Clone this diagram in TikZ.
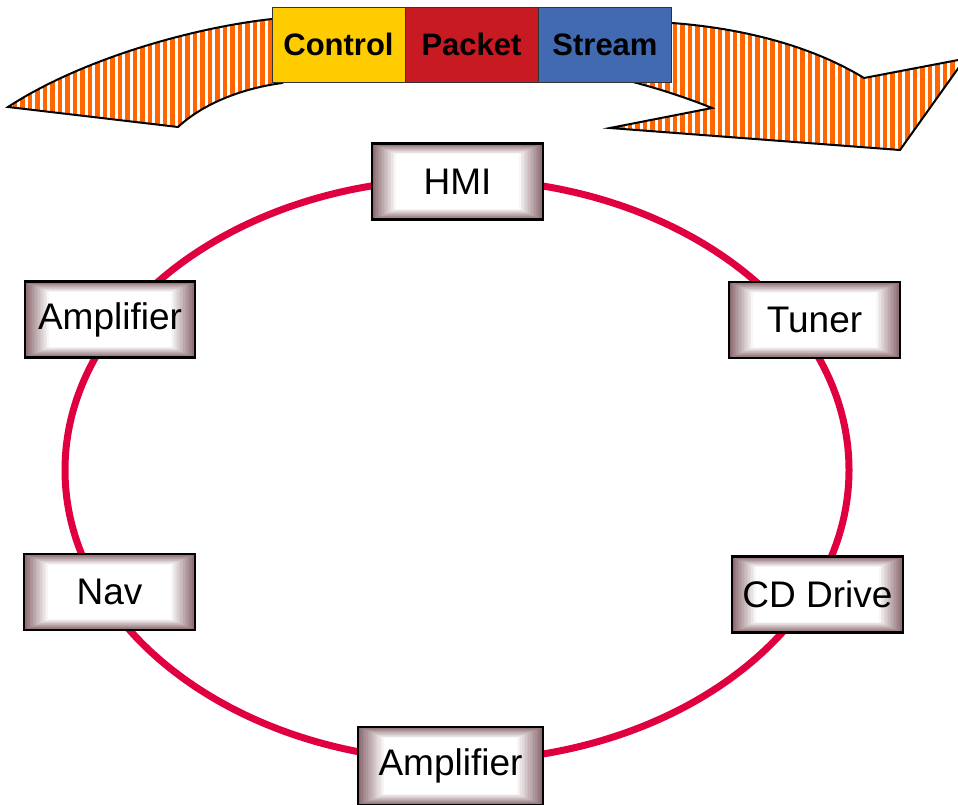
\documentclass[tikz,border=0pt]{standalone}
\usepackage{fontspec}
\setmainfont{Liberation Sans}
\usetikzlibrary{calc,patterns.meta}

\definecolor{ringred}{RGB}{224,0,64}
\definecolor{boxedge}{RGB}{138,104,110}
\definecolor{ctrlyellow}{RGB}{255,204,0}
\definecolor{pktred}{RGB}{200,26,34}
\definecolor{strblue}{RGB}{66,106,176}
\definecolor{stripe}{RGB}{255,102,0}

\tikzset{
  % ring member: framed box whose fill fades from the rim to a white centre
  unit/.style={draw=black, line width=2.2pt, inner sep=0pt,
    minimum width=171pt, minimum height=76pt,
    font=\fontsize{37}{40}\selectfont,
    path picture={
      \foreach \k in {0,...,16}{
        \pgfmathsetmacro\f{0.14*\k/16}
        \pgfmathtruncatemacro\w{100*\k/16}
        \fill[white!\w!boxedge]
          ($(path picture bounding box.south west)!\f!(path picture bounding box.north east)$)
          rectangle
          ($(path picture bounding box.north east)!\f!(path picture bounding box.south west)$);
      }
    }},
  band/.style={draw=black!80, line width=1pt, inner sep=0pt,
    minimum width=133pt, minimum height=75pt,
    font=\fontsize{31}{34}\selectfont\bfseries},
  ring/.style={draw=ringred, line width=7pt},
  flow/.style={draw=black, line width=2pt, line join=miter,
    pattern={Lines[angle=90,distance=7.5pt,line width=4.5pt]},
    pattern color=stripe}
}

\begin{document}
\begin{tikzpicture}[x=1pt,y=-1pt]
\useasboundingbox (0,0) rectangle (958,804);
\clip (0,0) rectangle (958,804);

% curved striped arrow running behind the message band
\path[flow] (300,17) -- (272,19)
  .. controls (190,28) and (80,60) .. (8,107)
  -- (178,127)
  .. controls (205,102) and (245,88) .. (282,83)
  -- (290,78) -- (625,78) -- (633,82)
  .. controls (660,89) and (690,99) .. (712,108)
  -- (610,128) -- (900,150) -- (965,58.7) -- (864,78)
  .. controls (810,45) and (740,28) .. (672,23)
  -- cycle;

% message types
\node[band, fill=ctrlyellow] (control) at (338.5,44.5) {Control};
\node[band, fill=pktred]     (packet)  at (471.5,44.5) {Packet};
\node[band, fill=strblue]    (stream)  at (605,44.5)   {Stream};

% the ring
\draw[ring] (457,470) ellipse [x radius=392, y radius=291];

% devices on the ring
\node[unit] (hmi)   at (457.5,181.5) {HMI};
\node[unit, minimum width=170pt] (ampl)  at (110,319.5)   {Amplifier};
\node[unit] (tuner) at (814.5,320) {Tuner};
\node[unit] (nav)   at (109.5,592) {Nav};
\node[unit] (cd)    at (817.5,594.5)   {CD Drive};
\node[unit, minimum width=185pt, minimum height=78pt] (ampb) at (450.5,766) {Amplifier};
\end{tikzpicture}
\end{document}
